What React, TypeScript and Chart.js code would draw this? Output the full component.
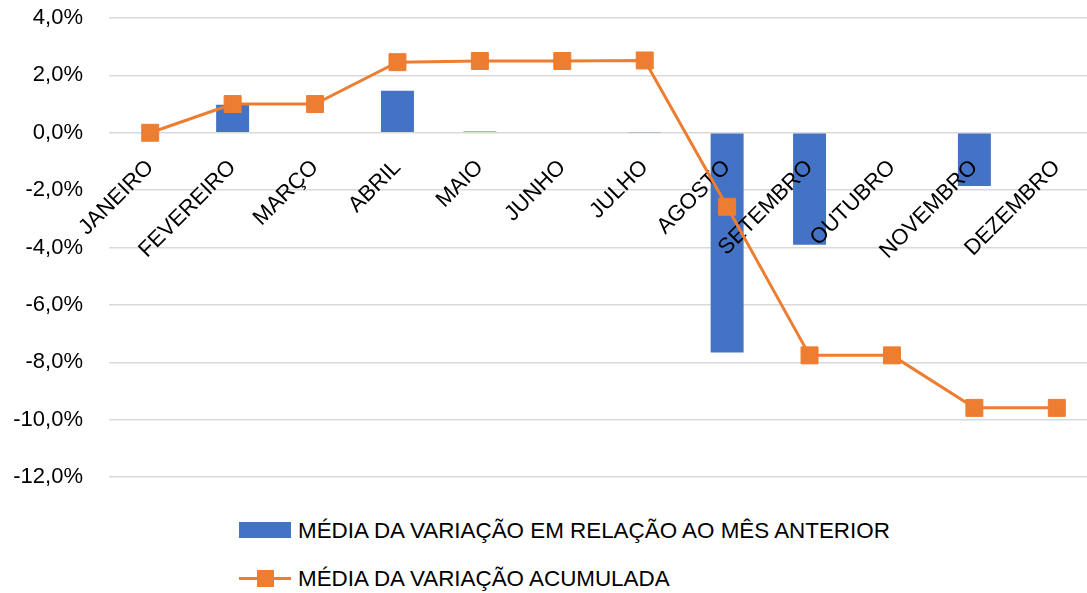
import React, { useEffect, useRef } from 'react';
import { Chart, registerables } from 'chart.js';

Chart.register(...registerables);

const categories = ['JANEIRO', 'FEVEREIRO', 'MARÇO', 'ABRIL', 'MAIO', 'JUNHO', 'JULHO', 'AGOSTO', 'SETEMBRO', 'OUTUBRO', 'NOVEMBRO', 'DEZEMBRO'];
const monthlyVariation = [0, 0.98, 0, 1.46, 0.04, 0, 0.02, -7.66, -3.9, 0, -1.86, 0];
const accumulatedVariation = [0, 1.0, 1.0, 2.46, 2.5, 2.5, 2.52, -2.58, -7.76, -7.76, -9.59, -9.59];
const yTickValues = [4, 2, 0, -2, -4, -6, -8, -10, -12];
const seriesNames = ['MÉDIA DA VARIAÇÃO EM RELAÇÃO AO MÊS ANTERIOR', 'MÉDIA DA VARIAÇÃO ACUMULADA'];

const BLUE = '#4472C4';
const ORANGE = '#ED7D31';
const FONT = "'Liberation Sans', Arial, sans-serif";

const lineOnTop = {
  id: 'lineOnTop',
  beforeDatasetDraw(chart: any, args: any) {
    if (args.index === 1 && !chart.$drawingLineOnTop) return false;
    return true;
  },
  afterDraw(chart: any) {
    chart.$drawingLineOnTop = true;
    const meta = chart.getDatasetMeta(1);
    meta.controller.draw();
    chart.$drawingLineOnTop = false;
  },
};

const zeroPadding = (axis: any) => {
  axis.paddingLeft = 0;
  axis.paddingRight = 0;
  axis.paddingTop = 0;
  axis.paddingBottom = 0;
};

export default function App() {
  const ref = useRef<HTMLCanvasElement>(null);

  useEffect(() => {
    if (!ref.current) return;
    const chart = new Chart(ref.current, {
      type: 'bar',
      data: {
        labels: categories,
        datasets: [
          {
            type: 'bar',
            label: seriesNames[0],
            data: monthlyVariation,
            backgroundColor: BLUE,
            barPercentage: 0.4,
            categoryPercentage: 1,
            order: 2,
          },
          {
            type: 'line',
            label: seriesNames[1],
            data: accumulatedVariation,
            borderColor: ORANGE,
            backgroundColor: ORANGE,
            borderWidth: 3,
            pointStyle: 'rect',
            pointRadius: 12,
            pointBackgroundColor: ORANGE,
            pointBorderColor: ORANGE,
            pointBorderWidth: 1,
            tension: 0,
            order: 1,
          } as any,
        ],
      },
      options: {
        responsive: false,
        animation: false,
        layout: { autoPadding: false, padding: { top: 18, bottom: 13, left: 0, right: 2 } },
        plugins: {
          legend: { display: false },
          tooltip: { enabled: false },
        },
        scales: {
          x: {
            position: { y: 0 } as any,
            offset: true,
            grid: { display: false },
            border: { display: false },
            afterFit: zeroPadding,
            ticks: {
              z: 1,
              autoSkip: false,
              maxRotation: 45,
              minRotation: 45,
              padding: 14,
              color: '#000',
              font: { family: FONT, size: 22 },
            },
          } as any,
          y: {
            min: Math.min(...yTickValues),
            max: Math.max(...yTickValues),
            grid: { color: '#d9d9d9', lineWidth: 1.5, drawTicks: false },
            border: { display: false },
            afterBuildTicks: (axis: any) => {
              axis.ticks = yTickValues.map((v) => ({ value: v }));
            },
            afterFit: (axis: any) => {
              zeroPadding(axis);
              axis.width = 109;
            },
            ticks: {
              padding: 26,
              color: '#000',
              font: { family: FONT, size: 22 },
              callback: (v: any) => Number(v).toFixed(1).replace('.', ',') + '%',
            },
          },
        },
      },
      plugins: [lineOnTop],
    });
    return () => chart.destroy();
  }, []);

  return (
    <div style={{ position: 'absolute', left: 0, top: 0, width: 1087, height: 593, overflow: 'hidden', background: '#fff', fontFamily: FONT }}>
      <canvas ref={ref} width={1100} height={490} style={{ position: 'absolute', left: 0, top: 0 }} />
      <div style={{ position: 'absolute', left: 239, top: 522, width: 52, height: 16, background: BLUE }} />
      <div style={{ position: 'absolute', left: 298, top: 516, fontSize: 22.4, lineHeight: '30px', color: '#000', whiteSpace: 'nowrap' }}>{seriesNames[0]}</div>
      <div style={{ position: 'absolute', left: 239, top: 577, width: 52, height: 3, background: ORANGE }} />
      <div style={{ position: 'absolute', left: 257, top: 570, width: 17, height: 17, background: ORANGE }} />
      <div style={{ position: 'absolute', left: 298, top: 564, fontSize: 22.4, lineHeight: '30px', color: '#000', whiteSpace: 'nowrap' }}>{seriesNames[1]}</div>
    </div>
  );
}
